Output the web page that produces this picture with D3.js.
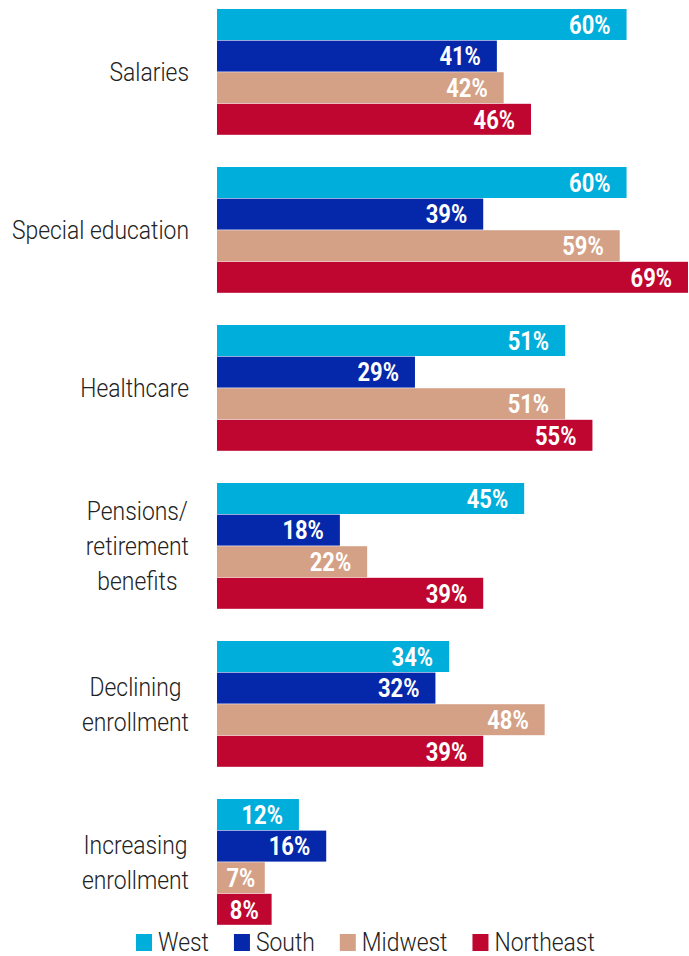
<!DOCTYPE html>
<html>
<head>
<meta charset="utf-8">
<script src="https://cdn.jsdelivr.net/npm/d3@7"></script>
<style>
  body { margin: 0; background: #fff; }
  text { font-family: Roboto, sans-serif; }
</style>
</head>
<body>
<svg id="chart" width="689" height="956"></svg>
<script>
var categories = ["Salaries", "Special education", "Healthcare", "Pensions/ retirement benefits", "Declining enrollment", "Increasing enrollment"];
var categoryLines = [["Salaries"], ["Special education"], ["Healthcare"], ["Pensions/", "retirement", "benefits"], ["Declining", "enrollment"], ["Increasing", "enrollment"]];
var regions = ["West", "South", "Midwest", "Northeast"];
var colors = ["#00aedb", "#0527aa", "#d4a187", "#bf0630"];
var west = [60, 60, 51, 45, 34, 12];
var south = [41, 39, 29, 18, 32, 16];
var midwest = [42, 59, 51, 22, 48, 7];
var northeast = [46, 69, 55, 39, 39, 8];

(function() {
  var svg = d3.select("#chart"),
    sx = 0.88,   // squeeze for the value labels (fake condensed face)
    lsx = 0.915; // squeeze for category and legend labels

  var series = [west, south, midwest, northeast];
  var data = categories.map(function(c, i) {
    return {cat: c, lines: categoryLines[i], vals: regions.map(function(r, j) { return {region: r, v: series[j][i]}; })};
  });

  var x = d3.scaleLinear().domain([0, 69]).range([217, 688]);

  var y0 = d3.scaleBand()
    .domain(categories)
    .range([9, 9 + 158 * 5.8])
    .paddingInner(0.2);

  var y1 = d3.scaleBand()
    .domain(regions)
    .range([0, y0.bandwidth()]);

  var color = d3.scaleOrdinal().domain(regions).range(colors);

  var groups = svg.selectAll("g.group")
    .data(data)
    .enter().append("g")
      .attr("class", "group")
      .attr("transform", function(d) { return "translate(0," + y0(d.cat) + ")"; });

  groups.selectAll("rect")
    .data(function(d) { return d.vals; })
    .enter().append("rect")
      .attr("x", x(0))
      .attr("y", function(d) { return y1(d.region); })
      .attr("width", function(d) { return x(d.v) - x(0); })
      .attr("height", y1.bandwidth() - 0.6)
      .attr("fill", function(d) { return color(d.region); });

  groups.selectAll("text.val")
    .data(function(d) { return d.vals; })
    .enter().append("text")
      .attr("class", "val")
      .attr("transform", function(d) {
        var tx = d.v < 10 ? (x(0) + x(d.v)) / 2 : x(d.v) - 16;
        return "translate(" + tx + "," + (y1(d.region) + y1.bandwidth() / 2) + ") scale(" + sx + ",1)";
      })
      .attr("dy", "0.36em")
      .attr("text-anchor", function(d) { return d.v < 10 ? "middle" : "end"; })
      .attr("fill", "#fff")
      .style("font-size", "25px")
      .style("font-weight", "700")
      .text(function(d) { return d.v + "%"; });

  // category labels: block right aligned at 189, lines centred inside it
  var lineH = 35, labelRight = 189;
  groups.each(function(d) {
    var n = d.lines.length,
      cy = y0.bandwidth() / 2,
      g = d3.select(this);
    var texts = g.selectAll("text.cat")
      .data(d.lines)
      .enter().append("text")
        .attr("class", "cat")
        .attr("dy", "0.36em")
        .attr("text-anchor", "middle")
        .attr("fill", "#222")
        .style("font-size", "25px")
        .style("font-weight", "300")
        .text(function(t) { return t; });
    var maxW = d3.max(texts.nodes(), function(nd) { return nd.getComputedTextLength(); }) * lsx;
    var cx = labelRight - maxW / 2;
    texts.attr("transform", function(t, i) {
      return "translate(" + cx + "," + (cy + (i - (n - 1) / 2) * lineH) + ") scale(" + lsx + ",1)";
    });
  });

  // legend
  var legend = svg.append("g").attr("class", "legend");
  var lx = 136;
  regions.forEach(function(r) {
    legend.append("rect")
      .attr("x", lx)
      .attr("y", 934)
      .attr("width", 16)
      .attr("height", 17)
      .attr("fill", color(r));
    var t = legend.append("text")
      .attr("transform", "translate(" + (lx + 22) + ",951) scale(" + lsx + ",1)")
      .attr("fill", "#222")
      .style("font-size", "25px")
      .style("font-weight", "300")
      .text(r);
    lx += 22 + t.node().getComputedTextLength() * lsx + 25;
  });
})();
</script>
</body>
</html>
